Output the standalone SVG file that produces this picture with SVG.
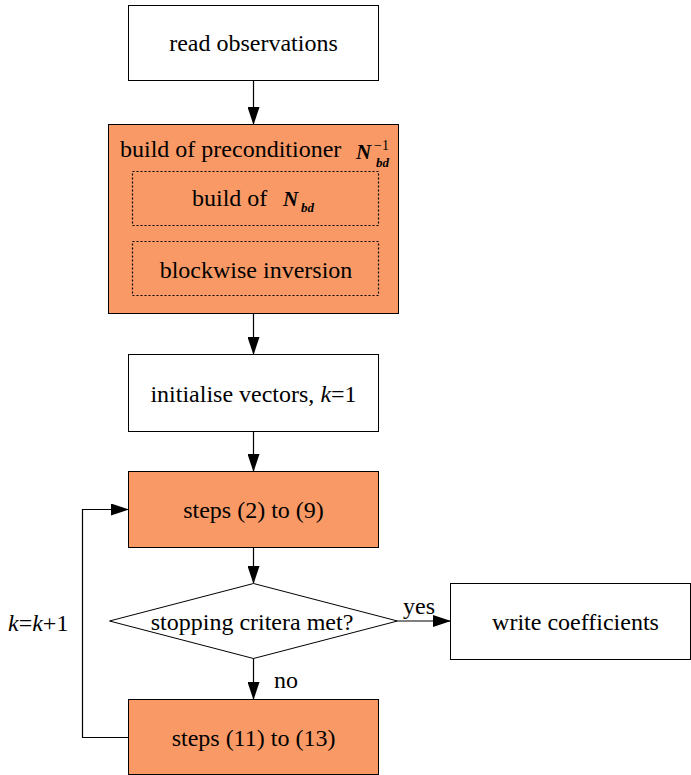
<svg xmlns="http://www.w3.org/2000/svg" width="691" height="775" viewBox="0 0 691 775">
<defs>
<marker id="ah" markerWidth="18" markerHeight="12" refX="17" refY="6" orient="auto" markerUnits="userSpaceOnUse">
<path d="M0,0 L18,6 L0,12 Z" fill="#000"/>
</marker>
<style>
text{font-family:'Liberation Serif','DejaVu Serif','Times New Roman',serif;font-size:24px;fill:#000}
.c{text-anchor:middle}
.box{fill:#fff;stroke:#000;stroke-width:1}
.org{fill:#F99A66;stroke:#000;stroke-width:1}
.dot{fill:none;stroke:#000;stroke-width:1.2;stroke-dasharray:2 2}
.ln{fill:none;stroke:#000;stroke-width:1.2}
.m{font-weight:bold;font-style:italic;font-size:21px}
.s{font-weight:bold;font-style:italic;font-size:13px}
.sup{font-size:14px}
</style>
</defs>
<rect width="691" height="775" fill="#fff"/>
<g id="read">
<rect class="box" x="128.5" y="5.5" width="250" height="75"/>
<text class="c" x="253.5" y="51">read observations</text>
</g>
<g id="precond">
<rect class="org" x="108.5" y="124.5" width="290" height="189"/>
<text x="120" y="157">build of preconditioner</text>
<text x="356" y="159" class="m">N</text>
<text x="376" y="167" class="s">bd</text>
<text x="374" y="150" class="sup">−1</text>
<g id="buildN">
<rect class="dot" x="132.5" y="171.5" width="246" height="54"/>
<text x="192" y="206">build of</text>
<text x="283" y="206" class="m">N</text>
<text x="301" y="212" class="s">bd</text>
</g>
<g id="blockinv">
<rect class="dot" x="132.5" y="241.5" width="246" height="54"/>
<text class="c" x="256" y="278">blockwise inversion</text>
</g>
</g>
<g id="init">
<rect class="box" x="128.5" y="354.5" width="250" height="77"/>
<text class="c" x="253.5" y="402">initialise vectors, <tspan font-style="italic">k</tspan>=1</text>
</g>
<g id="steps29">
<rect class="org" x="128.5" y="471.5" width="250" height="76"/>
<text class="c" x="253.5" y="518">steps (2) to (9)</text>
</g>
<g id="decision">
<polygon class="box" points="253.5,583.5 397.5,621 253.5,658.5 109.5,621"/>
<text class="c" x="252" y="630">stopping critera met?</text>
</g>
<g id="write">
<rect class="box" x="450.5" y="583.5" width="240" height="76"/>
<text class="c" x="575.5" y="630">write coefficients</text>
</g>
<g id="steps1113">
<rect class="org" x="128.5" y="699.5" width="250" height="75"/>
<text class="c" x="253.5" y="746">steps (11) to (13)</text>
</g>
<g id="connectors">
<line class="ln" x1="253.5" y1="80.5" x2="253.5" y2="124" marker-end="url(#ah)"/>
<line class="ln" x1="253.5" y1="313.5" x2="253.5" y2="354" marker-end="url(#ah)"/>
<line class="ln" x1="253.5" y1="431.5" x2="253.5" y2="471" marker-end="url(#ah)"/>
<line class="ln" x1="253.5" y1="547.5" x2="253.5" y2="583" marker-end="url(#ah)"/>
<line class="ln" x1="397.5" y1="621" x2="450" y2="621" marker-end="url(#ah)"/>
<text x="403" y="614">yes</text>
<line class="ln" x1="253.5" y1="658.5" x2="253.5" y2="699" marker-end="url(#ah)"/>
<text x="274" y="688">no</text>
<polyline class="ln" points="128.5,737.5 82.5,737.5 82.5,509.5 128,509.5" marker-end="url(#ah)"/>
<text x="8" y="631"><tspan font-style="italic">k</tspan>=<tspan font-style="italic">k</tspan>+1</text>
</g>
</svg>
